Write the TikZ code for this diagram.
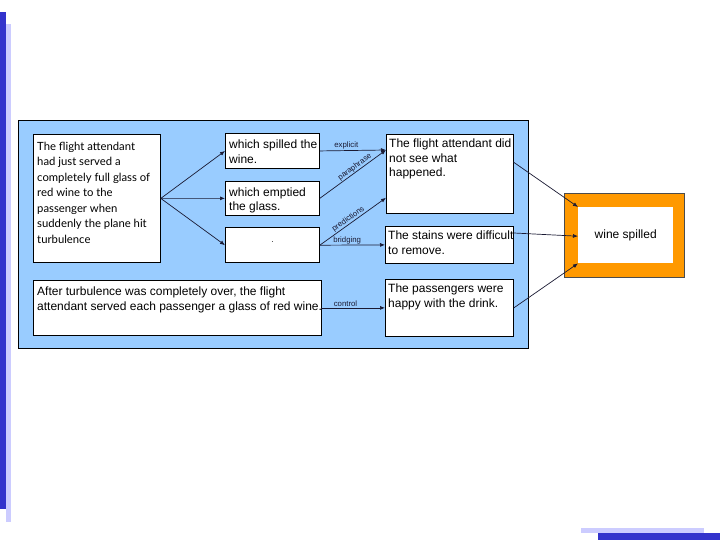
\documentclass[tikz,border=0pt]{standalone}
\usepackage{fontspec}
\setmainfont{Liberation Sans}
\newfontfamily\gillfont{Lato}
\usetikzlibrary{arrows.meta}
\definecolor{bgblue}{HTML}{99CCFF}
\definecolor{barblue}{HTML}{3333CC}
\definecolor{barlight}{HTML}{CCCCFF}
\definecolor{orng}{HTML}{FF9900}
\definecolor{linec}{HTML}{1A1A33}
\begin{document}
\begin{tikzpicture}[x=1pt,y=-1pt,
  box/.style={draw=black, fill=white, line width=0.8pt, inner sep=0pt, anchor=north west},
  txt/.style={anchor=north west, inner sep=0pt, align=left, font=\fontsize{12}{14.5}\selectfont},
  conn/.style={draw=linec, line width=0.7pt, -{Latex[length=5pt,width=4pt]}},
  lbl/.style={font=\fontsize{7.8}{8}\selectfont, inner sep=0.6pt, text=linec}
]
\useasboundingbox (0,0) rectangle (720,540);
% decorative bars
\fill[barblue] (0,12) rectangle (6,509);
\fill[barlight] (6,24) rectangle (11,522);
\fill[barlight] (581,528) rectangle (704,533);
\fill[barblue] (598,533) rectangle (720,540);
% background panel
\node[draw=black, fill=bgblue, line width=1pt, inner sep=0pt, anchor=north west,
      minimum width=510pt, minimum height=228pt] (panel) at (18,120) {};
% boxes
\node[box, minimum width=127pt, minimum height=128pt] (b1) at (33,134) {};
\node[txt, font=\gillfont\fontsize{11.3}{15.5}\selectfont] (t1) at (37,141.5)
  {The flight attendant\\had just served a\\completely full glass of\\red wine to the\\passenger when\\suddenly the plane hit\\turbulence};
\node[box, minimum width=94pt, minimum height=34.5pt] (sp) at (225,133.3) {};
\node[txt] (tsp) at (229,140) {which spilled the\\wine.};
\node[box, minimum width=94pt, minimum height=34.5pt] (em) at (225,180.7) {};
\node[txt] (tem) at (229,187.5) {which emptied\\the glass.};
\node[box, minimum width=94pt, minimum height=35pt] (ep) at (225,227.3) {};
\node[anchor=base, inner sep=0pt, font=\fontsize{8}{9}\selectfont] (dot) at ([yshift=3pt]ep.center) {.};
\node[box, minimum width=288pt, minimum height=55pt] (bl) at (32.5,280) {};
\node[txt] (tbl) at (37,287) {After turbulence was completely over, the flight\\attendant served each passenger a glass of red wine.};
\node[box, minimum width=126.5pt, minimum height=79pt] (fa) at (386,134) {};
\node[txt] (tfa) at (389,139) {The flight attendant did\\not see what\\happened.};
\node[box, minimum width=128pt, minimum height=37pt] (st) at (385,226) {};
\node[txt] (tst) at (388,231) {The stains were difficult\\to remove.};
\node[box, minimum width=128pt, minimum height=57pt] (pa) at (385,279) {};
\node[txt] (tpa) at (388,284) {The passengers were\\happy with the drink.};
% orange target
\node[draw=black!70, fill=orng, line width=0.6pt, inner sep=0pt, anchor=north west,
      minimum width=120pt, minimum height=84pt] (ob) at (564,193) {};
\node[fill=white, inner sep=0pt, anchor=north west, minimum width=95pt, minimum height=56pt,
      font=\fontsize{12}{14}\selectfont] (wine) at (578,207) {wine spilled};
% connectors from the first box
\draw[conn] (b1.east) -- (sp.west);
\draw[conn] (b1.east) -- (em.west);
\draw[conn] (b1.east) -- (ep.west);
% connectors into the right column
\coordinate (faIn) at ([yshift=-16pt]fa.north west);
\coordinate (faIn2) at ([yshift=16pt]fa.south west);
\draw[conn] (sp.east) -- node[lbl, above, pos=0.4] {explicit} (faIn);
\draw[conn] (em.east) -- node[lbl, above, sloped, pos=0.57] {paraphrase} (faIn);
\draw[conn] (ep.east) -- node[lbl, above, sloped, pos=0.47] {predictions} (faIn2);
\draw[conn] (ep.east) -- node[lbl, above, pos=0.42] {bridging} (st.west);
\draw[conn] (bl.east) -- node[lbl, above, pos=0.38] {control} (pa.west);
% connectors into the target
\draw[conn] ([yshift=-28pt]fa.north east) -- (wine.north west);
\draw[conn] ([yshift=-7pt]st.north east) -- ([yshift=-1pt]wine.west);
\draw[conn] (pa.east) -- (wine.south west);
\end{tikzpicture}
\end{document}
